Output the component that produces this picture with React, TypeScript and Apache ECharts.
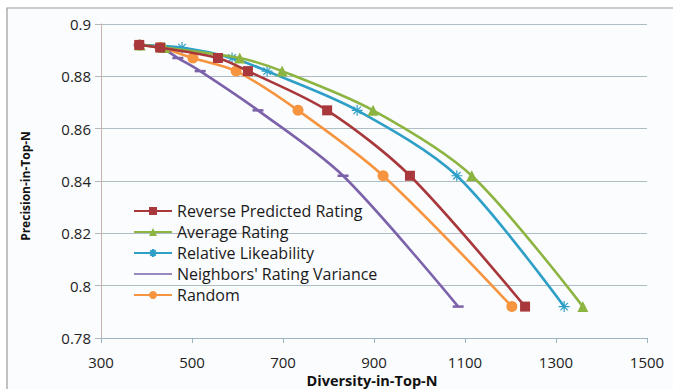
import React, { useEffect, useRef } from "react";
import * as echarts from "echarts";

const precision = [0.892, 0.891, 0.887, 0.882, 0.867, 0.842, 0.792];
const reversePredicted = [384, 430, 557, 623, 797, 979, 1232];
const averageRating = [386, 440, 605, 698, 898, 1115, 1359];
const relativeLikeability = [386, 478, 588, 665, 863, 1082, 1318];
const neighborsVariance = [384, 430, 469, 518, 645, 832, 1085];
const randomDiv = [384, 430, 502, 597, 733, 920, 1203];

const seriesNames = [
  "Reverse Predicted Rating",
  "Average Rating",
  "Relative Likeability",
  "Neighbors' Rating Variance",
  "Random",
];
const xTicks = { min: 300, max: 1500, interval: 200 };
const yTicks = { min: 0.78, max: 0.9, interval: 0.02 };

const asterisk =
  "path://M0,5L10,5M5,0L5,10M1.6,1.6L8.4,8.4M8.4,1.6L1.6,8.4";

export default function App() {
  const ref = useRef<HTMLDivElement>(null);
  useEffect(() => {
    if (!ref.current) return;
    const chart = echarts.init(ref.current, null, { renderer: "svg" });
    const pairs = (xs: number[]) => xs.map((x, i) => [x, precision[i]]);
    const colors = ["#a8383b", "#8cb440", "#2e9fc6", "#7b62aa", "#f6943f"];
    const datasets = [reversePredicted, averageRating, relativeLikeability, neighborsVariance, randomDiv];
    const symbols: any[] = ["rect", "triangle", asterisk, "rect", "circle"];
    const sizes: any[] = [10, 11, 11, [11, 2.5], 11];
    const font = "'Open Sans', 'DejaVu Sans', sans-serif";
    chart.setOption({
      animation: false,
      backgroundColor: "#ffffff",
      graphic: [
        {
          type: "rect",
          shape: { x: 7, y: 8, width: 700, height: 400 },
          style: { fill: "#fbfcfd", stroke: "#9a9a9a", lineWidth: 1.2 },
          z: -10,
          silent: true,
        },
        {
          type: "text",
          x: 372,
          y: 380,
          style: {
            text: "Diversity-in-Top-N",
            font: "bold 14.5px " + font,
            fill: "#111",
            align: "center",
            verticalAlign: "middle",
          },
        },
        {
          type: "text",
          x: 25,
          y: 186,
          rotation: Math.PI / 2,
          style: {
            text: "Precision-in-Top-N",
            font: "bold 12px " + font,
            fill: "#111",
            align: "center",
            verticalAlign: "middle",
          },
        },
      ],
      grid: { left: 101, right: 26, top: 24, bottom: 51 },
      legend: {
        orient: "vertical",
        left: 128,
        top: 198,
        itemWidth: 38,
        itemHeight: 10,
        itemGap: 5,
        textStyle: { fontFamily: font, fontSize: 16, color: "#1a1a1a" },
        data: seriesNames.map((n, i) =>
          i === 3 ? { name: n, icon: "path://M0,4.2L38,4.2L38,5.8L0,5.8Z" } : { name: n }
        ),
      },
      xAxis: {
        type: "value",
        min: xTicks.min,
        max: xTicks.max,
        interval: xTicks.interval,
        axisLine: { show: true, lineStyle: { color: "#9fb4c0", width: 1 } },
        axisTick: { show: true, length: 5, lineStyle: { color: "#9fb4c0" } },
        axisLabel: {
          fontFamily: font,
          fontSize: 15,
          color: "#222",
          margin: 16,
          formatter: (v: number) => String(v),
        },
        splitLine: { show: false },
      },
      yAxis: {
        type: "value",
        min: yTicks.min,
        max: yTicks.max,
        interval: yTicks.interval,
        axisLine: { show: true, lineStyle: { color: "#c9b4ad", width: 1 } },
        axisTick: { show: true, length: 6, lineStyle: { color: "#b4b8bc" } },
        axisLabel: {
          fontFamily: font,
          fontSize: 15,
          color: "#222",
          margin: 10,
          formatter: (v: number) => String(parseFloat(v.toFixed(2))),
        },
        splitLine: { show: true, lineStyle: { color: "#aebcc4", width: 1 } },
      },
      series: datasets.map((d, i) => ({
        name: seriesNames[i],
        type: "line",
        smooth: 0.3,
        data: pairs(d),
        symbol: symbols[i],
        symbolSize: sizes[i],
        showSymbol: true,
        lineStyle: { color: colors[i], width: 2.6 },
        itemStyle:
          i === 2
            ? { color: "transparent", borderColor: colors[i], borderWidth: 1.2 }
            : { color: colors[i], borderWidth: 0 },
        z: 5 - i,
      })),
    });
    return () => chart.dispose();
  }, []);
  return (
    <div
      ref={ref}
      style={{ position: "fixed", left: 0, top: 0, width: 673, height: 389 }}
    />
  );
}
